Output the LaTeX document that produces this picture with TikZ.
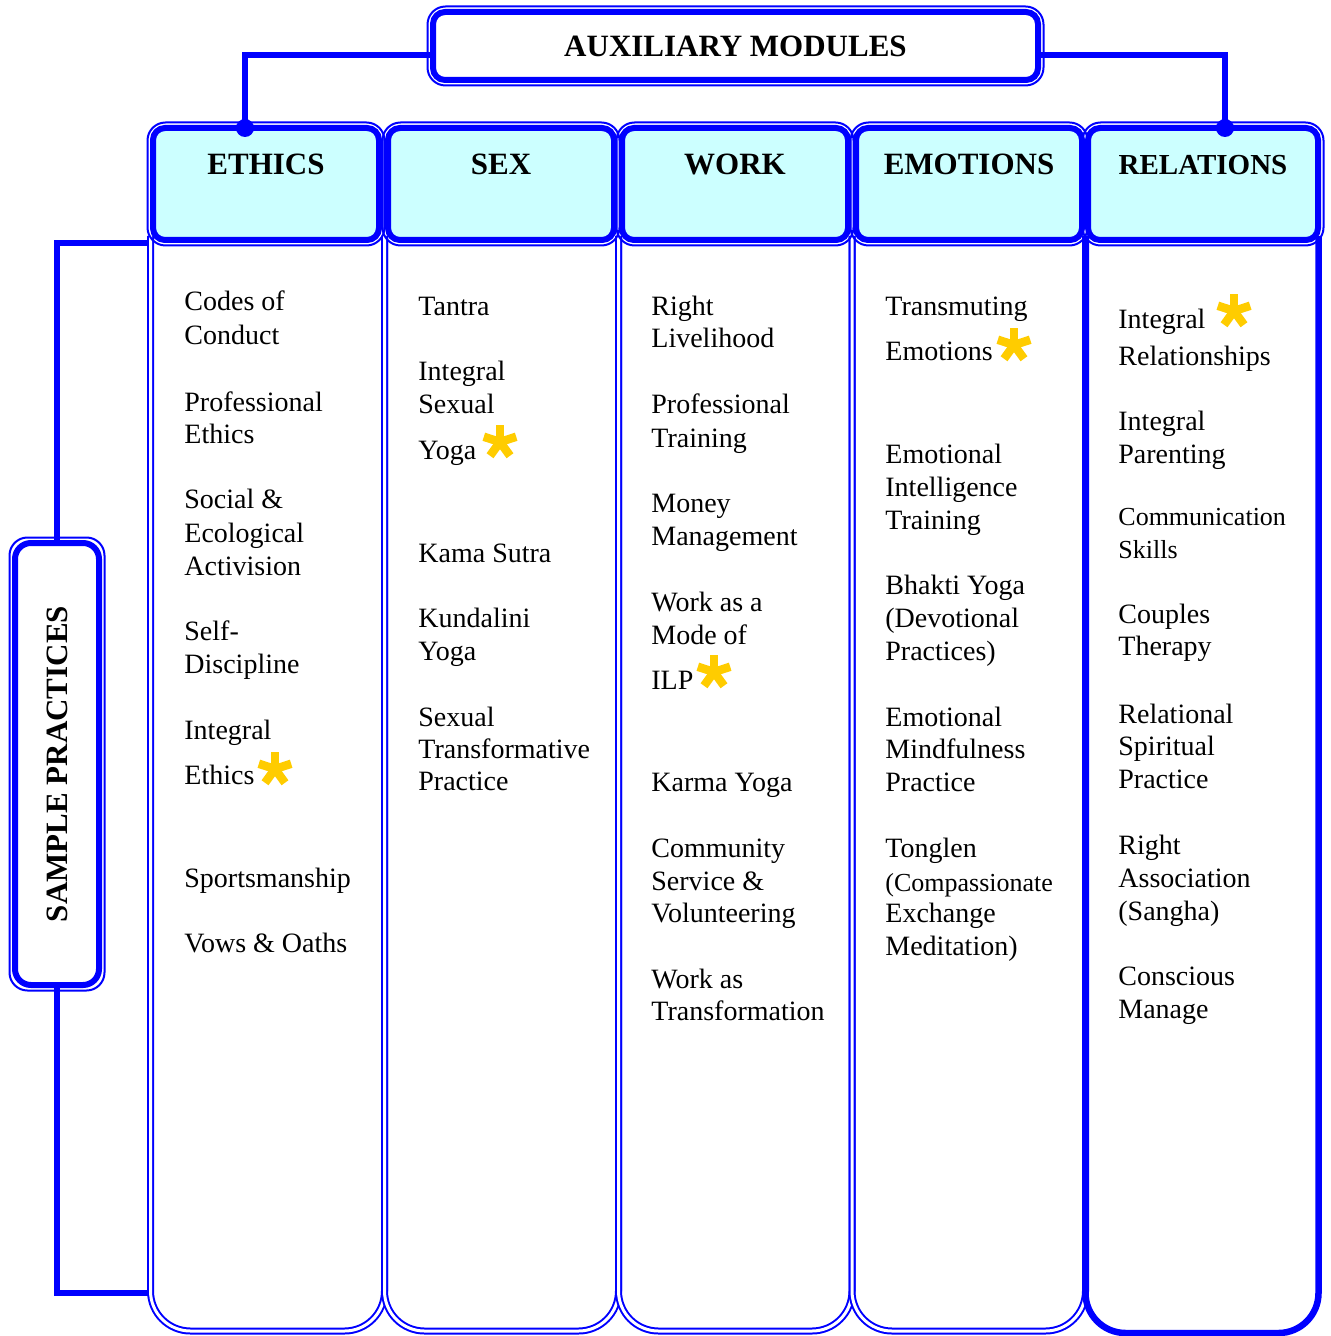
\documentclass[tikz,border=0pt]{standalone}
\usepackage{fontspec}
\setmainfont{Liberation Serif}
\usetikzlibrary{calc}
\definecolor{modblue}{RGB}{0,0,255}
\definecolor{headfill}{RGB}{204,255,255}
\definecolor{stargold}{RGB}{255,204,0}
\tikzset{
	boxthick/.style={draw=modblue, line width=3pt, rounded corners=6pt, inner sep=0pt, outer sep=0pt},
	boxframe/.style={draw=modblue, line width=1pt, rounded corners=9pt},
	colbody/.style={draw=modblue, line width=1pt, double=white, double distance=1.5pt, rounded corners=20pt},
	link/.style={draw=modblue, line width=2.75pt},
	headtxt/.style={font=\bfseries\fontsize{15.5}{18}\selectfont},
	headbox/.style={boxthick, fill=headfill, headtxt, minimum width=113pt, text height=23.5pt, text depth=32.5pt},
	item/.style={anchor=base west, inner sep=0pt, font=\fontsize{14}{16}\selectfont}
}
\newcommand{\smalltext}[1]{{\fontsize{13}{15}\selectfont #1}}
\newcommand{\practicestar}[1]{\foreach \a in {18,90,162,234,306} \draw[stargold, line width=4.25pt] (#1) -- ++(-\a:17); \fill[stargold] (#1) circle (3pt);}

\begin{document}
\begin{tikzpicture}[x=0.5pt,y=-0.5pt]
			%%%%% START %%%%%
			\useasboundingbox (0,0) rectangle (1330,1336);
			
			% column bodies
			\draw[colbody] (150.5,236) -- (150.5,1331) -- (384.5,1331) -- (384.5,236);
			\draw[colbody] (384.5,236) -- (384.5,1331) -- (618.5,1331) -- (618.5,236);
			\draw[colbody] (618.5,236) -- (618.5,1331) -- (852,1331) -- (852,236);
			\draw[colbody] (852,236) -- (852,1331) -- (1085.5,1331) -- (1085.5,236);
			\draw[modblue, line width=3.25pt, rounded corners=20pt] (1085.5,236) -- (1085.5,1333) -- (1318.5,1333) -- (1318.5,236);
			
			% boxes
			\node[boxthick, fill=white, headtxt, minimum width=302.5pt, minimum height=34pt] (aux) at (735.5,46) {AUXILIARY MODULES};
			\node[headbox] (ethics) at (266,184) {ETHICS};
			\node[headbox] (sex) at (501,184) {SEX};
			\node[headbox] (work) at (735,184) {WORK};
			\node[headbox] (emotions) at (969,184) {EMOTIONS};
			\node[headbox, minimum width=115pt, font=\bfseries\fontsize{14.5}{18}\selectfont] (relations) at (1203,184) {RELATIONS};
			\node[boxthick, rounded corners=8pt, fill=white, headtxt, minimum width=42pt, minimum height=221pt] (sample) at (57,764) {\rotatebox{90}{SAMPLE PRACTICES}};
			
			\foreach \n in {aux,ethics,sex,work,emotions,relations,sample}
				\draw[boxframe] ($(\n.north west)+(-5.5,-5.5)$) rectangle ($(\n.south east)+(5.5,5.5)$);
			
			% links
			\coordinate (brtop) at (149,243);
			\coordinate (brbot) at (149,1293);
			\draw[link] ([yshift=-4.5pt]aux.west) -| ([xshift=-10.5pt]ethics.north);
			\draw[link] ([yshift=-4.5pt]aux.east) -| ([xshift=11pt]relations.north);
			\draw[link] (sample.north) |- (brtop);
			\draw[link] (sample.south) |- (brbot);
			\fill[modblue] ([xshift=-10.5pt]ethics.north) circle (4.5pt);
			\fill[modblue] ([xshift=11pt]relations.north) circle (4.5pt);
			
			% practices
			\foreach \t/\y [count=\i] in {Codes of/311, Conduct/345, Professional/411, Ethics/444, Social \&/508, Ecological/542, Activision/575, Self-/640, Discipline/673, Integral/739, Ethics/784, Sportsmanship/887, Vows \& Oaths/952}
				\node[item] (eth\i) at (184,\y) {\t};
			\foreach \t/\y [count=\i] in {Tantra/316, Integral/381, Sexual/414, Yoga/459, Kama Sutra/562, Kundalini/627, Yoga/660, Sexual/726, Transformative/758, Practice/790}
				\node[item] (sex\i) at (418,\y) {\t};
			\foreach \t/\y [count=\i] in {Right/316, Livelihood/348, Professional/414, Training/447, Money/512, Management/545, Work as a/611, Mode of/644, ILP/689, Karma Yoga/791, Community/857, Service \&/890, Volunteering/922, Work as/988, Transformation/1020}
				\node[item] (wrk\i) at (651,\y) {\t};
			\foreach \t/\y [count=\i] in {Transmuting/316, Emotions/361, Emotional/463, Intelligence/496, Training/529, Bhakti Yoga/594, {(Devotional}/627, {Practices)}/660, Emotional/726, Mindfulness/758, Practice/791, Tonglen/857, {\smalltext{(Compassionate}}/891, Exchange/922, {Meditation)}/955}
				\node[item] (emo\i) at (885,\y) {\t};
			\foreach \t/\y [count=\i] in {Integral/329, Relationships/365, Integral/430, Parenting/463, \smalltext{Communication}/525, \smalltext{Skills}/558, Couples/623, Therapy/655, Relational/723, Spiritual/755, Practice/788, Right/854, Association/887, {(Sangha)}/920, Conscious/985, Manage/1018}
				\node[item] (rel\i) at (1118,\y) {\t};
			
			% stars
			\practicestar{275,769}
			\practicestar{500,442}
			\practicestar{714,672}
			\practicestar{1014,345}
			\practicestar{1234,311}
			
			%%%%% END %%%%%
\end{tikzpicture}
\end{document}
